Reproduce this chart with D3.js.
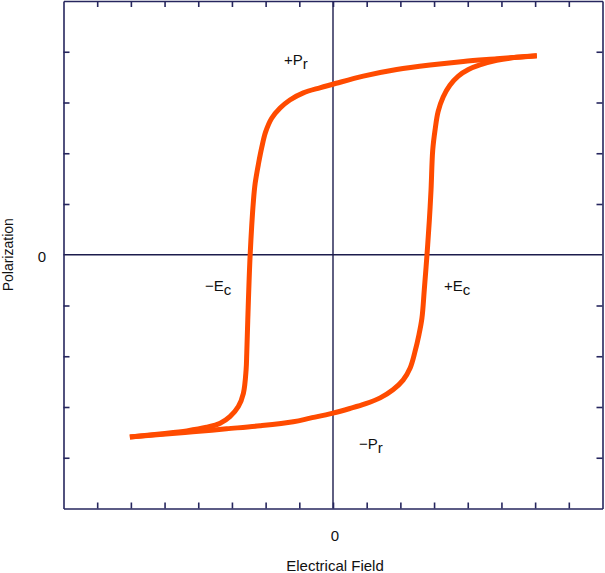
<!DOCTYPE html>
<meta charset="utf-8">
<style>
body { margin: 0; background: #fff; }
text { font-family: "Liberation Sans", Arial, sans-serif; fill: #111; }
.axis path, .axis line { stroke: #26265e; stroke-width: 1.6; }
</style>
<body>
<script src="https://cdn.jsdelivr.net/npm/d3@7"></script>
<script>

// upper branch, read right tip -> left tip (field, polarization)
var upperE = [6.05, 5.45, 4.86, 3.87, 2.88, 1.89, 0.90, 0, -0.39, -0.88, -1.28, -1.57, -1.82, -2.00, -2.11, -2.21, -2.31, -2.36, -2.46, -2.53, -2.56, -2.58, -2.66, -2.81, -3.06, -3.35, -3.75, -4.34, -5.14, -6.03];
var upperP = [3.92, 3.89, 3.86, 3.81, 3.74, 3.65, 3.52, 3.36, 3.29, 3.19, 3.05, 2.89, 2.69, 2.42, 2.13, 1.80, 1.41, 1.08, -0.01, -1.29, -1.94, -2.27, -2.73, -2.99, -3.19, -3.32, -3.40, -3.47, -3.53, -3.59];
// lower branch, left tip -> right tip
var lowerE = [-6.03, -5.14, -4.16, -3.16, -2.17, -1.18, -0.68, 0, 0.50, 0.95, 1.40, 1.78, 2.08, 2.29, 2.43, 2.55, 2.64, 2.71, 2.79, 2.86, 2.91, 2.96, 3.03, 3.12, 3.27, 3.47, 3.72, 4.02, 4.36, 4.86, 5.45, 6.05];
var lowerP = [-3.59, -3.54, -3.49, -3.43, -3.37, -3.29, -3.22, -3.12, -3.03, -2.94, -2.82, -2.66, -2.47, -2.23, -1.92, -1.58, -1.25, -0.69, 0, 0.68, 1.28, 2.06, 2.46, 2.82, 3.11, 3.34, 3.52, 3.65, 3.74, 3.83, 3.89, 3.92];

var xTicks = [-7, -6, -5, -4, -3, -2, -1, 0, 1, 2, 3, 4, 5, 6, 7];
var yTicks = [-4, -3, -2, -1, 1, 2, 3, 4];

var W = 605, H = 573;
var plotL = 63.5, plotR = 602.5, plotT = 1, plotB = 508.5;

var x = d3.scaleLinear().domain([-8, 8]).range([plotL, plotR]);
var y = d3.scaleLinear().domain([-5, 5]).range([plotB, plotT]);

var svg = d3.select("body").append("svg")
    .attr("width", W)
    .attr("height", H);

// zero lines
svg.append("line")
    .attr("x1", plotL).attr("x2", plotR)
    .attr("y1", y(0)).attr("y2", y(0))
    .attr("stroke", "#1c1c4c").attr("stroke-width", 1.4);
svg.append("line")
    .attr("x1", x(0)).attr("x2", x(0))
    .attr("y1", plotT).attr("y2", plotB)
    .attr("stroke", "#1c1c4c").attr("stroke-width", 1.4);

// frame with inward ticks
svg.append("g").attr("class", "axis")
    .attr("transform", "translate(0," + plotB + ")")
    .call(d3.axisBottom(x).tickValues(xTicks).tickSize(-6).tickSizeOuter(0).tickFormat(""));
svg.append("g").attr("class", "axis")
    .attr("transform", "translate(0," + plotT + ")")
    .call(d3.axisTop(x).tickValues(xTicks).tickSize(-6).tickSizeOuter(0).tickFormat(""));
svg.append("g").attr("class", "axis")
    .attr("transform", "translate(" + plotL + ",0)")
    .call(d3.axisLeft(y).tickValues(yTicks).tickSize(-6).tickSizeOuter(0).tickFormat(""));
svg.append("g").attr("class", "axis")
    .attr("transform", "translate(" + plotR + ",0)")
    .call(d3.axisRight(y).tickValues(yTicks).tickSize(-6).tickSizeOuter(0).tickFormat(""));

// hysteresis loop
var line = d3.line()
    .x(function(d) { return x(d[0]); })
    .y(function(d) { return y(d[1]); })
    .curve(d3.curveCatmullRom.alpha(0.5));

var upper = upperE.map(function(e, i) { return [e, upperP[i]]; });
var lower = lowerE.map(function(e, i) { return [e, lowerP[i]]; });

[upper, lower].forEach(function(branch) {
  svg.append("path")
      .attr("d", line(branch))
      .attr("fill", "none")
      .attr("stroke", "#ff4b00")
      .attr("stroke-width", 5)
      .attr("stroke-linecap", "butt");
});

// zero labels
svg.append("text")
    .attr("x", x(0) + 2).attr("y", 541)
    .attr("text-anchor", "middle")
    .style("font-size", "15px")
    .text("0");
svg.append("text")
    .attr("x", 42).attr("y", y(0) + 7)
    .attr("text-anchor", "middle")
    .style("font-size", "15px")
    .text("0");

// axis titles
svg.append("text")
    .attr("x", x(0) + 2).attr("y", 571)
    .attr("text-anchor", "middle")
    .style("font-size", "15px")
    .text("Electrical Field");
svg.append("text")
    .attr("transform", "translate(12.5," + y(0) + ") rotate(-90)")
    .attr("text-anchor", "middle")
    .style("font-size", "14px")
    .text("Polarization");

// annotations with subscripts
function label(px, py, main, sub) {
  var t = svg.append("text")
      .attr("x", px).attr("y", py)
      .style("font-size", "15px");
  t.append("tspan").text(main);
  t.append("tspan").attr("dy", 4).text(sub);
}
label(284, 65, "+P", "r");
label(205, 291, "\u2212E", "c");
label(444, 291, "+E", "c");
label(359, 449, "\u2212P", "r");

</script>
</body>
